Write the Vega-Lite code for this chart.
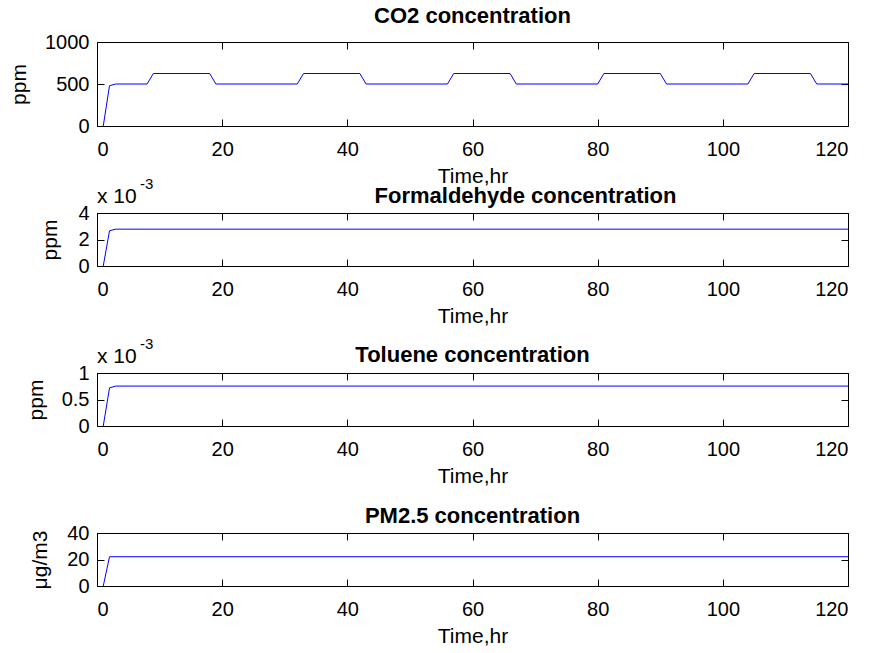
{
  "$schema": "https://vega.github.io/schema/vega-lite/v6.json",
  "background": "white",
  "padding": {"left": 8, "top": 4, "right": 0, "bottom": 0},
  "config": {
    "font": "Liberation Sans",
    "view": {"stroke": "black", "strokeWidth": 1},
    "axis": {
      "domain": false, "grid": false, "offset": -7, "zindex": 2,
      "ticks": true, "tickColor": "black", "tickOpacity": 1, "tickSize": 7, "tickWidth": 1,
      "labelFont": "Liberation Sans", "labelFontSize": 20, "labelColor": "black",
      "titleFont": "Liberation Sans", "titleFontSize": 21, "titleFontWeight": "normal", "titleColor": "black"
    },
    "title": {"font": "Liberation Sans", "fontSize": 22, "fontWeight": "bold", "color": "black", "baseline": "alphabetic", "anchor": "middle"}
  },
  "datasets": {
    "co2": [
      {"t": 1, "v": 0}, {"t": 2, "v": 480}, {"t": 3, "v": 500}, {"t": 8, "v": 500}, {"t": 9, "v": 625},
      {"t": 18, "v": 625}, {"t": 19, "v": 500}, {"t": 32, "v": 500}, {"t": 33, "v": 625}, {"t": 42, "v": 625},
      {"t": 43, "v": 500}, {"t": 56, "v": 500}, {"t": 57, "v": 625}, {"t": 66, "v": 625}, {"t": 67, "v": 500},
      {"t": 80, "v": 500}, {"t": 81, "v": 625}, {"t": 90, "v": 625}, {"t": 91, "v": 500}, {"t": 104, "v": 500},
      {"t": 105, "v": 625}, {"t": 114, "v": 625}, {"t": 115, "v": 500}, {"t": 120, "v": 500}
    ],
    "hcho": [
      {"t": 1, "v": 0}, {"t": 2, "v": 0.00266}, {"t": 3, "v": 0.00278}, {"t": 120, "v": 0.00278}
    ],
    "tol": [
      {"t": 1, "v": 0}, {"t": 2, "v": 0.00072}, {"t": 3, "v": 0.000753}, {"t": 120, "v": 0.000753}
    ],
    "pm": [
      {"t": 1, "v": 0}, {"t": 2, "v": 22.1}, {"t": 120, "v": 22.1}
    ]
  },
  "bounds": "flush",
  "spacing": 87,
  "vconcat": [
    {
      "width": 751, "height": 84,
      "title": {"text": "CO2 concentration", "offset": 4},
      "data": {"name": "co2"},
      "layer": [
        {
          "mark": {"type": "line", "color": "#0000ff", "strokeWidth": 1},
          "encoding": {
            "x": {"field": "t", "type": "quantitative", "scale": {"domain": [0, 120], "nice": false},
                  "axis": {"orient": "bottom", "offset": 0, "ticks": false, "values": [0, 20, 40, 60, 80, 100, 120], "title": "Time,hr", "titlePadding": 6, "labelPadding": 13}},
            "y": {"field": "v", "type": "quantitative", "scale": {"domain": [0, 1000], "nice": false},
                  "axis": {"orient": "left", "offset": 0, "ticks": false, "values": [0, 500, 1000], "format": "d", "title": "ppm", "titlePadding": 15, "labelPadding": 8}}
          }
        },
        {
          "mark": {"type": "line", "strokeOpacity": 0},
          "encoding": {
            "x": {"field": "t", "type": "quantitative", "axis": {"orient": "top", "values": [0, 20, 40, 60, 80, 100, 120], "labels": false, "labelPadding": 0, "title": null, "minExtent": 0}},
            "y": {"field": "v", "type": "quantitative", "axis": {"orient": "right", "values": [0, 500, 1000], "labels": false, "labelPadding": 0, "title": null, "minExtent": 0}}
          }
        },
        {
          "mark": {"type": "line", "strokeOpacity": 0},
          "encoding": {
            "x": {"field": "t", "type": "quantitative", "axis": {"orient": "top", "offset": -84, "values": [0, 20, 40, 60, 80, 100, 120], "labels": false, "labelPadding": 0, "title": null, "minExtent": 0}},
            "y": {"field": "v", "type": "quantitative", "axis": {"orient": "right", "offset": -751, "values": [0, 500, 1000], "labels": false, "labelPadding": 0, "title": null, "minExtent": 0}}
          }
        }
      ],
      "resolve": {"axis": {"x": "independent", "y": "independent"}}
    },
    {
      "bounds": "flush",
      "spacing": 107,
      "vconcat": [
        {
          "width": 751, "height": 53,
          "title": {"text": "Formaldehyde concentration", "offset": -31, "dx": 53},
          "layer": [
            {
              "data": {"name": "hcho"},
              "mark": {"type": "line", "color": "#0000ff", "strokeWidth": 1},
              "encoding": {
                "x": {"field": "t", "type": "quantitative", "scale": {"domain": [0, 120], "nice": false},
                      "axis": {"orient": "bottom", "offset": 0, "ticks": false, "values": [0, 20, 40, 60, 80, 100, 120], "title": "Time,hr", "titlePadding": 6, "labelPadding": 13}},
                "y": {"field": "v", "type": "quantitative", "scale": {"domain": [0, 0.004], "nice": false},
                      "axis": {"orient": "left", "offset": 0, "ticks": false, "values": [0, 0.002, 0.004], "labelExpr": "format(datum.value * 1000, '~g')", "title": "ppm", "titlePadding": 17, "labelPadding": 8}}
              }
            },
            {
              "data": {"name": "hcho"},
              "mark": {"type": "line", "strokeOpacity": 0},
              "encoding": {
                "x": {"field": "t", "type": "quantitative", "axis": {"orient": "top", "values": [0, 20, 40, 60, 80, 100, 120], "labels": false, "labelPadding": 0, "title": null, "minExtent": 0}},
                "y": {"field": "v", "type": "quantitative", "axis": {"orient": "right", "values": [0, 0.002, 0.004], "labels": false, "labelPadding": 0, "title": null, "minExtent": 0}}
              }
            },
            {
              "data": {"values": [{"t": 0, "v": 0.004, "s": "x 10"}]},
              "mark": {"type": "text", "align": "left", "baseline": "alphabetic", "dy": -10, "fontSize": 21, "color": "black"},
              "encoding": {
                "x": {"field": "t", "type": "quantitative", "axis": null},
                "y": {"field": "v", "type": "quantitative", "axis": null},
                "text": {"field": "s"}
              }
            },
            {
              "data": {"values": [{"t": 0, "v": 0.004, "s": "-3"}]},
              "mark": {"type": "text", "align": "left", "baseline": "alphabetic", "dx": 43, "dy": -24, "fontSize": 15, "color": "black"},
              "encoding": {
                "x": {"field": "t", "type": "quantitative", "axis": null},
                "y": {"field": "v", "type": "quantitative", "axis": null},
                "text": {"field": "s"}
              }
            },
            {
              "data": {"name": "hcho"},
              "mark": {"type": "line", "strokeOpacity": 0},
              "encoding": {
                "x": {"field": "t", "type": "quantitative", "axis": {"orient": "top", "offset": -53, "values": [0, 20, 40, 60, 80, 100, 120], "labels": false, "labelPadding": 0, "title": null, "minExtent": 0}},
                "y": {"field": "v", "type": "quantitative", "axis": {"orient": "right", "offset": -751, "values": [0, 0.002, 0.004], "labels": false, "labelPadding": 0, "title": null, "minExtent": 0}}
              }
            }
          ],
          "resolve": {"axis": {"x": "independent", "y": "independent"}}
        },
        {
          "width": 751, "height": 53,
          "title": {"text": "Toluene concentration", "offset": -30},
          "layer": [
            {
              "data": {"name": "tol"},
              "mark": {"type": "line", "color": "#0000ff", "strokeWidth": 1},
              "encoding": {
                "x": {"field": "t", "type": "quantitative", "scale": {"domain": [0, 120], "nice": false},
                      "axis": {"orient": "bottom", "offset": 0, "ticks": false, "values": [0, 20, 40, 60, 80, 100, 120], "title": "Time,hr", "titlePadding": 6, "labelPadding": 13}},
                "y": {"field": "v", "type": "quantitative", "scale": {"domain": [0, 0.001], "nice": false},
                      "axis": {"orient": "left", "offset": 0, "ticks": false, "values": [0, 0.0005, 0.001], "labelExpr": "format(datum.value * 1000, '~g')", "title": "ppm", "titlePadding": 15, "labelPadding": 8}}
              }
            },
            {
              "data": {"name": "tol"},
              "mark": {"type": "line", "strokeOpacity": 0},
              "encoding": {
                "x": {"field": "t", "type": "quantitative", "axis": {"orient": "top", "values": [0, 20, 40, 60, 80, 100, 120], "labels": false, "labelPadding": 0, "title": null, "minExtent": 0}},
                "y": {"field": "v", "type": "quantitative", "axis": {"orient": "right", "values": [0, 0.0005, 0.001], "labels": false, "labelPadding": 0, "title": null, "minExtent": 0}}
              }
            },
            {
              "data": {"values": [{"t": 0, "v": 0.001, "s": "x 10"}]},
              "mark": {"type": "text", "align": "left", "baseline": "alphabetic", "dy": -10, "fontSize": 21, "color": "black"},
              "encoding": {
                "x": {"field": "t", "type": "quantitative", "axis": null},
                "y": {"field": "v", "type": "quantitative", "axis": null},
                "text": {"field": "s"}
              }
            },
            {
              "data": {"values": [{"t": 0, "v": 0.001, "s": "-3"}]},
              "mark": {"type": "text", "align": "left", "baseline": "alphabetic", "dx": 43, "dy": -24, "fontSize": 15, "color": "black"},
              "encoding": {
                "x": {"field": "t", "type": "quantitative", "axis": null},
                "y": {"field": "v", "type": "quantitative", "axis": null},
                "text": {"field": "s"}
              }
            },
            {
              "data": {"name": "tol"},
              "mark": {"type": "line", "strokeOpacity": 0},
              "encoding": {
                "x": {"field": "t", "type": "quantitative", "axis": {"orient": "top", "offset": -53, "values": [0, 20, 40, 60, 80, 100, 120], "labels": false, "labelPadding": 0, "title": null, "minExtent": 0}},
                "y": {"field": "v", "type": "quantitative", "axis": {"orient": "right", "offset": -751, "values": [0, 0.0005, 0.001], "labels": false, "labelPadding": 0, "title": null, "minExtent": 0}}
              }
            }
          ],
          "resolve": {"axis": {"x": "independent", "y": "independent"}}
        },
        {
          "width": 751, "height": 53,
          "title": {"text": "PM2.5 concentration", "offset": -5},
          "data": {"name": "pm"},
          "layer": [
            {
              "mark": {"type": "line", "color": "#0000ff", "strokeWidth": 1},
              "encoding": {
                "x": {"field": "t", "type": "quantitative", "scale": {"domain": [0, 120], "nice": false},
                      "axis": {"orient": "bottom", "offset": 0, "ticks": false, "values": [0, 20, 40, 60, 80, 100, 120], "title": "Time,hr", "titlePadding": 6, "labelPadding": 13}},
                "y": {"field": "v", "type": "quantitative", "scale": {"domain": [0, 40], "nice": false},
                      "axis": {"orient": "left", "offset": 0, "ticks": false, "values": [0, 20, 40], "title": "μg/m3", "titlePadding": 16, "labelPadding": 8}}
              }
            },
            {
              "mark": {"type": "line", "strokeOpacity": 0},
              "encoding": {
                "x": {"field": "t", "type": "quantitative", "axis": {"orient": "top", "values": [0, 20, 40, 60, 80, 100, 120], "labels": false, "labelPadding": 0, "title": null, "minExtent": 0}},
                "y": {"field": "v", "type": "quantitative", "axis": {"orient": "right", "values": [0, 20, 40], "labels": false, "labelPadding": 0, "title": null, "minExtent": 0}}
              }
            },
            {
              "mark": {"type": "line", "strokeOpacity": 0},
              "encoding": {
                "x": {"field": "t", "type": "quantitative", "axis": {"orient": "top", "offset": -53, "values": [0, 20, 40, 60, 80, 100, 120], "labels": false, "labelPadding": 0, "title": null, "minExtent": 0}},
                "y": {"field": "v", "type": "quantitative", "axis": {"orient": "right", "offset": -751, "values": [0, 20, 40], "labels": false, "labelPadding": 0, "title": null, "minExtent": 0}}
              }
            }
          ],
          "resolve": {"axis": {"x": "independent", "y": "independent"}}
        }
      ]
    }
  ]
}
